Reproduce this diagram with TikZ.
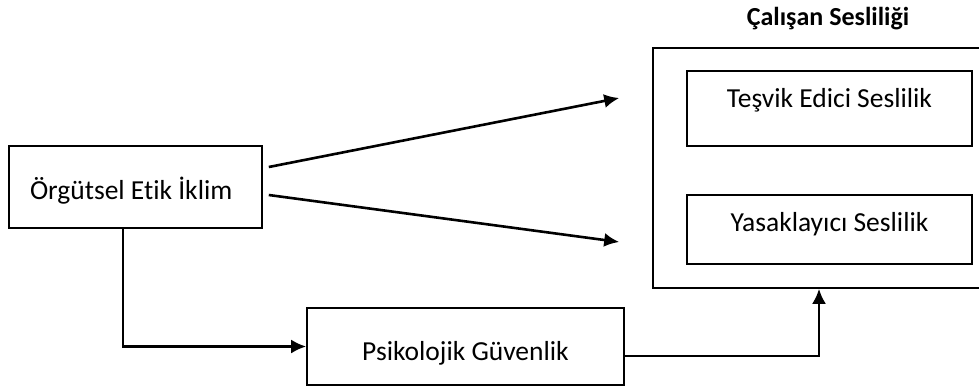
\documentclass[tikz,border=0pt]{standalone}
\usepackage{fontspec}
\setmainfont{Carlito}[Ligatures=NoCommon]
\usetikzlibrary{arrows.meta}

\begin{document}
\begin{tikzpicture}[
  x=1pt, y=-1pt,
  every node/.style = {font=\fontsize{27.5}{32}\selectfont},
  box/.style = {draw, line width=1.6pt, rectangle, inner sep=0pt},
  arrow/.style = {line width=2.6pt, -{Latex[length=15pt,width=14pt]}}]
  \useasboundingbox (0,0) rectangle (979,389);
  \node[box, text width=211pt, inner xsep=21pt, align=flush left,
        text height=53pt, text depth=29pt] (climate) at (135.5,187) {Örgütsel Etik İklim};
  \node[box, minimum width=317pt, text height=52pt, text depth=25pt] (psych) at (465.5,346.5) {Psikolojik Güvenlik};
  \node[box, minimum width=332pt, minimum height=240pt] (voice) at (819,168) {};
  \node[anchor=base, font=\fontsize{26}{30}\selectfont\bfseries] (title) at (828,25) {Çalışan Sesliliği};
  \node[box, minimum width=285pt, text height=36pt, text depth=39pt] (promotive) at (829.5,108.5) {Teşvik Edici Seslilik};
  \node[box, minimum width=285pt, text height=36pt, text depth=33pt] (prohibitive) at (829.5,229.5) {Yasaklayıcı Seslilik};
  \coordinate (tip1) at ([shift={(-33,-70)}]voice.west);
  \coordinate (tip2) at ([shift={(-33,74)}]voice.west);
  \draw[arrow] ([shift={(6,-20)}]climate.east) -- (tip1);
  \draw[arrow] ([shift={(6,8)}]climate.east) -- (tip2);
  \draw[arrow] ([xshift=-12.5pt]climate.south) |- (psych.west);
  \draw[arrow] ([yshift=-9.5pt]psych.east) -| (voice.south);
\end{tikzpicture}
\end{document}
